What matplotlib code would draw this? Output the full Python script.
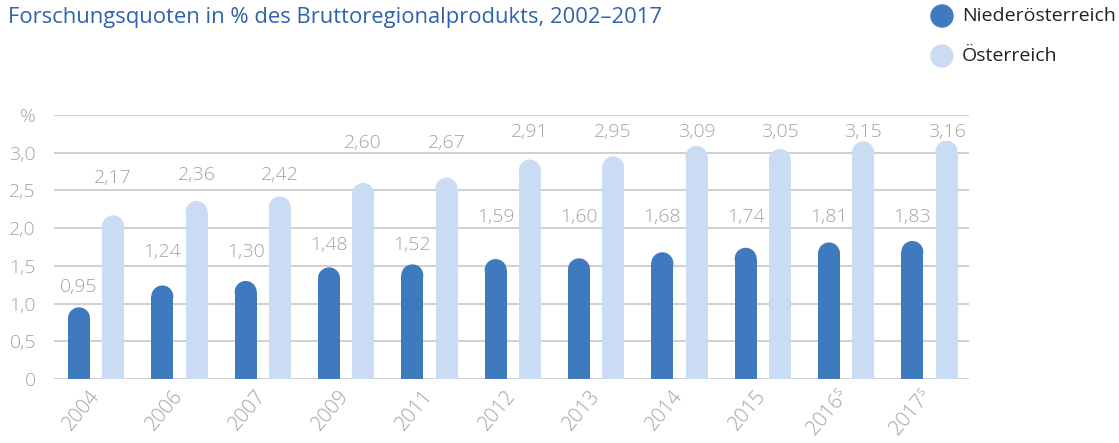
import matplotlib
matplotlib.use("Agg")
import matplotlib.pyplot as plt
from matplotlib.patches import Ellipse
import numpy as np

# ---- data ----
years = ["2004", "2006", "2007", "2009", "2011", "2012", "2013", "2014", "2015", "2016", "2017"]
year_sup = ["", "", "", "", "", "", "", "", "", "s", "s"]
noe = [0.95, 1.24, 1.30, 1.48, 1.52, 1.59, 1.60, 1.68, 1.74, 1.81, 1.83]
oe = [2.17, 2.36, 2.42, 2.60, 2.67, 2.91, 2.95, 3.09, 3.05, 3.15, 3.16]
yticks = [0, 0.5, 1.0, 1.5, 2.0, 2.5, 3.0, 3.5]
ytick_labels = ["0", "0,5", "1,0", "1,5", "2,0", "2,5", "3,0", "%"]

# ---- layout (label heights as placed in the original) ----
noe_label_y = [1.22, 1.69, 1.69, 1.78, 1.78, 2.15, 2.15, 2.15, 2.15, 2.15, 2.15]
oe_label_y = [2.67, 2.71, 2.71, 3.13, 3.13, 3.27, 3.27, 3.27, 3.27, 3.27, 3.27]

DARK = "#3e7abd"
LIGHT = "#c9dcf3"
GRAY = "#a3a3a3"
TITLE = "#2f62ad"
FONT = "Open Sans"

W, H, DPI = 1119, 443, 100
fig = plt.figure(figsize=(W / DPI, H / DPI), dpi=DPI)
ax_l, ax_r, ax_b, ax_t = 54, 969, 379, 115
ax = fig.add_axes([ax_l / W, 1 - ax_b / H, (ax_r - ax_l) / W, (ax_b - ax_t) / H])

xmin, xmax = -0.30, 10.68
ax.set_xlim(xmin, xmax)
ax.set_ylim(0, 3.5)

for s in ax.spines.values():
    s.set_visible(False)
ax.set_yticks(yticks)
ax.set_yticklabels(ytick_labels, fontsize=14, color=GRAY, family=FONT, fontweight=300)
ax.tick_params(axis="y", length=0, pad=13)
ax.set_xticks([])
for yv in yticks:
    ax.axhline(yv, color="#c4c4c4", lw=1.1, zorder=0)

x = np.arange(len(years))
off = 0.41
bw = 0.264
px_x = (ax_r - ax_l) / (xmax - xmin)
px_y = (ax_b - ax_t) / 3.5
r_data = (bw * px_x / 2) / px_y

for xs, vals, col in [(x, noe, DARK), (x + off, oe, LIGHT)]:
    vals = np.array(vals)
    ax.bar(xs, vals - r_data, width=bw, color=col, linewidth=0, zorder=2)
    for xi, vi in zip(xs, vals):
        ax.add_patch(Ellipse((xi, vi - r_data), bw, 2 * r_data, color=col,
                             linewidth=0, zorder=2))

def fmt(v):
    return f"{v:.2f}".replace(".", ",")

for i in range(len(years)):
    ax.text(x[i], noe_label_y[i], fmt(noe[i]), ha="center", va="center",
            fontsize=14, color=GRAY, family=FONT, fontweight=300)
    ax.text(x[i] + off, oe_label_y[i], fmt(oe[i]), ha="center", va="center",
            fontsize=14, color=GRAY, family=FONT, fontweight=300)
    lab = years[i] + (r"$^{\mathregular{%s}}$" % year_sup[i] if year_sup[i] else "")
    ax.text(x[i] + off / 2 + 0.0, -0.18, lab, ha="right", va="center", rotation=50,
            rotation_mode="anchor", fontsize=14.5, color=GRAY, family=FONT,
            fontweight=300)

fig.text(8 / W, 1 - 17 / H, "Forschungsquoten in % des Bruttoregionalprodukts, 2002–2017",
         ha="left", va="center", fontsize=15.8, color=TITLE, family=FONT)

# legend
for yy, col, lab in [(16, DARK, "Niederösterreich"), (56, LIGHT, "Österreich")]:
    fig.patches.append(Ellipse((942 / W, 1 - yy / H), 22 / W, 22 / H,
                               transform=fig.transFigure, color=col))
    fig.text(962 / W, 1 - yy / H, lab, ha="left", va="center", fontsize=14,
             color="#222222", family=FONT)

fig.savefig("out.png", dpi=DPI)
